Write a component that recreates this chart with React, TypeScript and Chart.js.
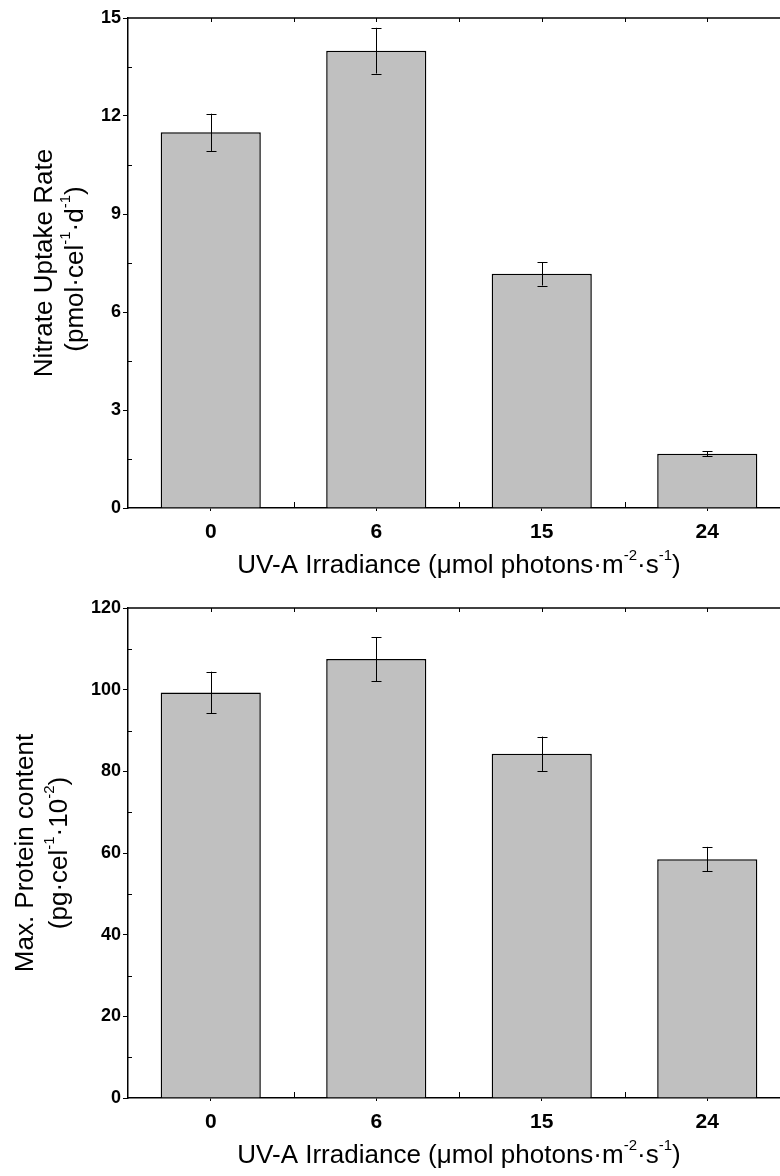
import React, { useEffect, useRef } from "react";
import { Chart, registerables } from "chart.js";

Chart.register(...registerables);

// ---------- data ----------
const categories = ["0", "6", "15", "24"];
const nitrateValues = [11.5, 14.0, 7.17, 1.66];
const nitrateErrors = [0.57, 0.7, 0.36, 0.08];
const proteinValues = [99.3, 107.5, 84.3, 58.5];
const proteinErrors = [5.1, 5.4, 4.2, 3.0];
const nitrateAxis = { min: 0, max: 15, step: 3, minor: 1.5 };
const proteinAxis = { min: 0, max: 120, step: 20, minor: 10 };

type Part = { t: string; sup?: boolean };
const xTitleParts: Part[] = [
  { t: "UV-A Irradiance (\u03bcmol photons\u00b7m" },
  { t: "-2", sup: true },
  { t: "\u00b7s" },
  { t: "-1", sup: true },
  { t: ")" },
];
const nitrateTitle: Part[][] = [
  [{ t: "Nitrate Uptake Rate" }],
  [
    { t: "(pmol\u00b7cel" },
    { t: "-1", sup: true },
    { t: "\u00b7d" },
    { t: "-1", sup: true },
    { t: ")" },
  ],
];
const proteinTitle: Part[][] = [
  [{ t: "Max. Protein content" }],
  [
    { t: "(pg\u00b7cel" },
    { t: "-1", sup: true },
    { t: "\u00b710" },
    { t: "-2", sup: true },
    { t: ")" },
  ],
];

const FONT = '"Liberation Sans", Arial, Helvetica, sans-serif';
const TITLE_SIZE = 26;
const SUP_SIZE = 15;
const SUP_RAISE = 13;

function partsWidth(ctx: CanvasRenderingContext2D, parts: Part[]) {
  let w = 0;
  for (const p of parts) {
    ctx.font = `${p.sup ? SUP_SIZE : TITLE_SIZE}px ${FONT}`;
    w += ctx.measureText(p.t).width;
  }
  return w;
}

function drawPartsCentered(ctx: CanvasRenderingContext2D, parts: Part[], cx: number, baseline: number) {
  const w = partsWidth(ctx, parts);
  let x = cx - w / 2;
  ctx.textAlign = "left";
  ctx.textBaseline = "alphabetic";
  for (const p of parts) {
    ctx.font = `${p.sup ? SUP_SIZE : TITLE_SIZE}px ${FONT}`;
    ctx.fillText(p.t, x, p.sup ? baseline - SUP_RAISE : baseline);
    x += ctx.measureText(p.t).width;
  }
}

type Opts = {
  values: number[];
  errors: number[];
  axis: { min: number; max: number; step: number; minor: number };
  yTitle: Part[][];
  yTitleBaselines: number[];
  yTitleShift: number[];
  padTop: number;
  xAxisHeight: number;
};

function makeChart(canvas: HTMLCanvasElement, o: Opts) {
  const decorPlugin = {
    id: "decor",
    afterDatasetsDraw(chart: any) {
      const ctx: CanvasRenderingContext2D = chart.ctx;
      const ys = chart.scales.y;
      const meta = chart.getDatasetMeta(0);
      ctx.save();
      ctx.strokeStyle = "#000";
      ctx.lineWidth = 1;
      meta.data.forEach((el: any, i: number) => {
        const v = o.values[i];
        const e = o.errors[i];
        const x = Math.round(el.x) + 0.5;
        const yt = ys.getPixelForValue(v + e);
        const yb = ys.getPixelForValue(v - e);
        ctx.beginPath();
        ctx.moveTo(x, yt);
        ctx.lineTo(x, yb);
        ctx.moveTo(x - 5, Math.round(yt) + 0.5);
        ctx.lineTo(x + 5, Math.round(yt) + 0.5);
        ctx.moveTo(x - 5, Math.round(yb) + 0.5);
        ctx.lineTo(x + 5, Math.round(yb) + 0.5);
        ctx.stroke();
      });
      ctx.restore();
    },
    afterDraw(chart: any) {
      const ctx: CanvasRenderingContext2D = chart.ctx;
      const area = chart.chartArea;
      const ys = chart.scales.y;
      const xs = chart.scales.x;
      ctx.save();
      ctx.strokeStyle = "#000";
      ctx.lineWidth = 1.5;
      // top frame line
      ctx.beginPath();
      ctx.moveTo(area.left, area.top);
      ctx.lineTo(area.right, area.top);
      ctx.stroke();
      ctx.lineWidth = 1;
      // y minor ticks (inside)
      ctx.beginPath();
      for (let v = o.axis.min + o.axis.minor; v < o.axis.max; v += o.axis.step) {
        const y = Math.round(ys.getPixelForValue(v)) + 0.5;
        ctx.moveTo(area.left, y);
        ctx.lineTo(area.left + 4, y);
      }
      // x ticks: between categories (inside, bottom & top), centers (inside top)
      const n = categories.length;
      for (let i = 0; i < n; i++) {
        const c = Math.round(xs.getPixelForValue(i)) + 0.5;
        ctx.moveTo(c, area.top);
        ctx.lineTo(c, area.top + 4);
        if (i < n - 1) {
          const m = Math.round((xs.getPixelForValue(i) + xs.getPixelForValue(i + 1)) / 2) + 0.5;
          ctx.moveTo(m, area.bottom);
          ctx.lineTo(m, area.bottom - 6);
          ctx.moveTo(m, area.top);
          ctx.lineTo(m, area.top + 4);
        }
      }
      ctx.stroke();

      ctx.fillStyle = "#000";
      // x title
      drawPartsCentered(ctx, xTitleParts, (area.left + area.right) / 2, area.bottom + 65);
      // y title (rotated)
      const cy = (area.top + area.bottom) / 2;
      o.yTitle.forEach((line, i) => {
        ctx.save();
        ctx.translate(o.yTitleBaselines[i], cy + o.yTitleShift[i]);
        ctx.rotate(-Math.PI / 2);
        drawPartsCentered(ctx, line, 0, 0);
        ctx.restore();
      });
      ctx.restore();
    },
  };

  return new Chart(canvas, {
    type: "bar",
    data: {
      labels: categories,
      datasets: [
        {
          data: o.values,
          backgroundColor: "#c0c0c0",
          borderColor: "#000",
          borderWidth: 1.5,
          barPercentage: 0.605,
          categoryPercentage: 1,
        },
      ],
    },
    options: {
      responsive: false,
      animation: false,
      devicePixelRatio: 1,
      layout: { padding: { top: o.padTop, right: 10, left: 0, bottom: 0 } },
      plugins: { legend: { display: false }, tooltip: { enabled: false } },
      scales: {
        x: {
          type: "category",
          offset: true,
          grid: { display: true, drawOnChartArea: false, drawTicks: true, tickLength: 3, offset: false, color: "#000" },
          border: { display: true, color: "#000", width: 1.5 },
          ticks: {
            color: "#000",
            padding: 9,
            font: { family: FONT, size: 21, weight: "bold" },
            maxRotation: 0,
          },
          afterFit: (s: any) => {
            s.height = o.xAxisHeight;
          },
        },
        y: {
          type: "linear",
          min: o.axis.min,
          max: o.axis.max,
          grid: { display: true, drawOnChartArea: false, drawTicks: true, tickLength: 5, color: "#000" },
          border: { display: true, color: "#000", width: 1.5 },
          ticks: {
            stepSize: o.axis.step,
            color: "#000",
            padding: 2,
            font: { family: FONT, size: 18, weight: "bold" },
          },
          afterFit: (s: any) => {
            s.width = 128;
          },
        },
      },
    },
    plugins: [decorPlugin],
  } as any);
}

function BarPanel({ opts, top }: { opts: Opts; top: number }) {
  const ref = useRef<HTMLCanvasElement | null>(null);
  useEffect(() => {
    if (!ref.current) return;
    const chart = makeChart(ref.current, opts);
    return () => chart.destroy();
  }, [opts]);
  return (
    <div style={{ position: "absolute", left: 0, top, width: 800, height: 588 }}>
      <canvas ref={ref} width={800} height={588} style={{ width: 800, height: 588, display: "block" }} />
    </div>
  );
}

const nitrateOpts: Opts = {
  values: nitrateValues,
  errors: nitrateErrors,
  axis: nitrateAxis,
  yTitle: nitrateTitle,
  yTitleBaselines: [52, 83],
  yTitleShift: [0, 6],
  padTop: 18,
  xAxisHeight: 80,
};

const proteinOpts: Opts = {
  values: proteinValues,
  errors: proteinErrors,
  axis: proteinAxis,
  yTitle: proteinTitle,
  yTitleBaselines: [33, 67],
  yTitleShift: [0, 0],
  padTop: 20,
  xAxisHeight: 78,
};

export default function App() {
  return (
    <div
      style={{
        position: "absolute",
        left: 0,
        top: 0,
        width: 780,
        height: 1176,
        overflow: "hidden",
        background: "#fff",
      }}
    >
      <BarPanel opts={nitrateOpts} top={0} />
      <BarPanel opts={proteinOpts} top={588} />
    </div>
  );
}
